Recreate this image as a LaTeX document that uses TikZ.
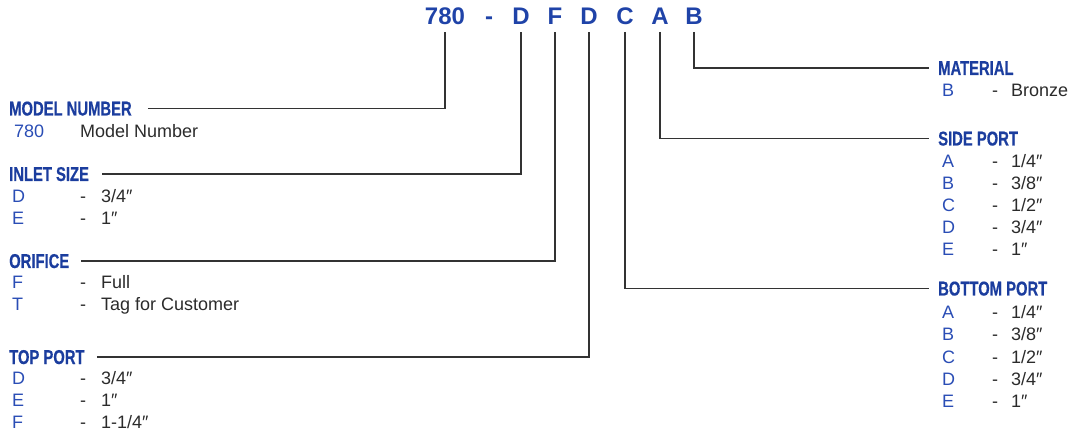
\documentclass[tikz,border=0pt]{standalone}
\usepackage{fontspec}
\setmainfont{Liberation Sans}
\newfontfamily\headfont{Liberation Sans}[FakeStretch=0.74,FakeBold=0.5]
\definecolor{codeblue}{HTML}{1F43A8}
\definecolor{headblue}{HTML}{1B3D9E}
\definecolor{letblue}{HTML}{2A4DB5}
\definecolor{txtgray}{HTML}{2B2B2B}
\definecolor{linegray}{HTML}{333333}
\begin{document}
\begin{tikzpicture}[x=1pt,y=-1pt,
  code/.style={anchor=base,inner sep=0pt,text=codeblue,font=\fontsize{24}{28}\selectfont\bfseries},
  head/.style={anchor=base west,inner sep=0pt,text=headblue,font=\headfont\fontsize{20}{22}\selectfont\bfseries},
  letter/.style={anchor=base west,inner sep=0pt,text=letblue,font=\fontsize{18}{20}\selectfont},
  txt/.style={anchor=base west,inner sep=0pt,text=txtgray,font=\fontsize{18}{20}\selectfont},
  conn/.style={draw=linegray,line width=1.6pt}]
\useasboundingbox (0,0) rectangle (1070,435);

% code
\node[code] (c780) at (445,25) {780};
\node[code] (cdash) at (489,25) {-};
\node[code] (cD1) at (521,25) {D};
\node[code] (cF) at (555,25) {F};
\node[code] (cD2) at (589,25) {D};
\node[code] (cC) at (625,25) {C};
\node[code] (cA) at (660,25) {A};
\node[code] (cB) at (694,25) {B};

% left headings
\node[head] (hmodel) at (9,115.5) {MODEL NUMBER};
\node[head] (hinlet) at (9,181) {INLET SIZE};
\node[head] (horif) at (9,268) {ORIFICE};
\node[head] (htop) at (9,364) {TOP PORT};
% right headings
\node[head] (hmat) at (938,75) {MATERIAL};
\node[head] (hside) at (938,145.5) {SIDE PORT};
\node[head] (hbot) at (938,295.5) {BOTTOM PORT};

% connectors
\draw[conn] ([xshift=16pt]hmodel.east) -| ([yshift=-7pt]c780.base);
\draw[conn] ([xshift=13pt]hinlet.east) -| ([yshift=-7pt]cD1.base);
\draw[conn] ([xshift=12pt]horif.east) -| ([yshift=-7pt]cF.base);
\draw[conn] ([xshift=12pt]htop.east) -| ([yshift=-7pt]cD2.base);
\draw[conn] ([yshift=-7pt]cB.base) |- ([xshift=-9pt]hmat.west);
\draw[conn] ([yshift=-7pt]cA.base) |- ([xshift=-9pt]hside.west);
\draw[conn] ([yshift=-7pt]cC.base) |- ([xshift=-9pt]hbot.west);

% model number
\node[letter] (m1l) at (14,138) {780};
\node[txt] (m1t) at (80,138) {Model Number};

% inlet size
\foreach \l/\v/\y/\i in {D/3\slash 4″/203/1, E/1″/225/2}{
  \node[letter] (il\i) at (12,\y) {\l};
  \node[txt] (id\i) at (80,\y) {-};
  \node[txt] (iv\i) at (101,\y) {\v};
}
% orifice
\foreach \l/\v/\y/\i in {F/Full/289/1, T/Tag for Customer/311/2}{
  \node[letter] (ol\i) at (12,\y) {\l};
  \node[txt] (od\i) at (80,\y) {-};
  \node[txt] (ov\i) at (101,\y) {\v};
}
% top port
\foreach \l/\v/\y/\i in {D/3\slash 4″/384/1, E/1″/406/2, F/1-1\slash 4″/428/3}{
  \node[letter] (tl\i) at (12,\y) {\l};
  \node[txt] (td\i) at (80,\y) {-};
  \node[txt] (tv\i) at (101,\y) {\v};
}
% material
\node[letter] (ml1) at (942,97) {B};
\node[txt] (md1) at (992,97) {-};
\node[txt] (mv1) at (1011,97) {Bronze};
% side port
\foreach \l/\v/\y/\i in {A/1\slash 4″/168/1, B/3\slash 8″/190/2, C/1\slash 2″/212/3, D/3\slash 4″/234/4, E/1″/256/5}{
  \node[letter] (sl\i) at (942,\y) {\l};
  \node[txt] (sd\i) at (992,\y) {-};
  \node[txt] (sv\i) at (1011,\y) {\v};
}
% bottom port
\foreach \l/\v/\y/\i in {A/1\slash 4″/319/1, B/3\slash 8″/341/2, C/1\slash 2″/363/3, D/3\slash 4″/385/4, E/1″/407/5}{
  \node[letter] (bl\i) at (942,\y) {\l};
  \node[txt] (bd\i) at (992,\y) {-};
  \node[txt] (bv\i) at (1011,\y) {\v};
}
\end{tikzpicture}
\end{document}
